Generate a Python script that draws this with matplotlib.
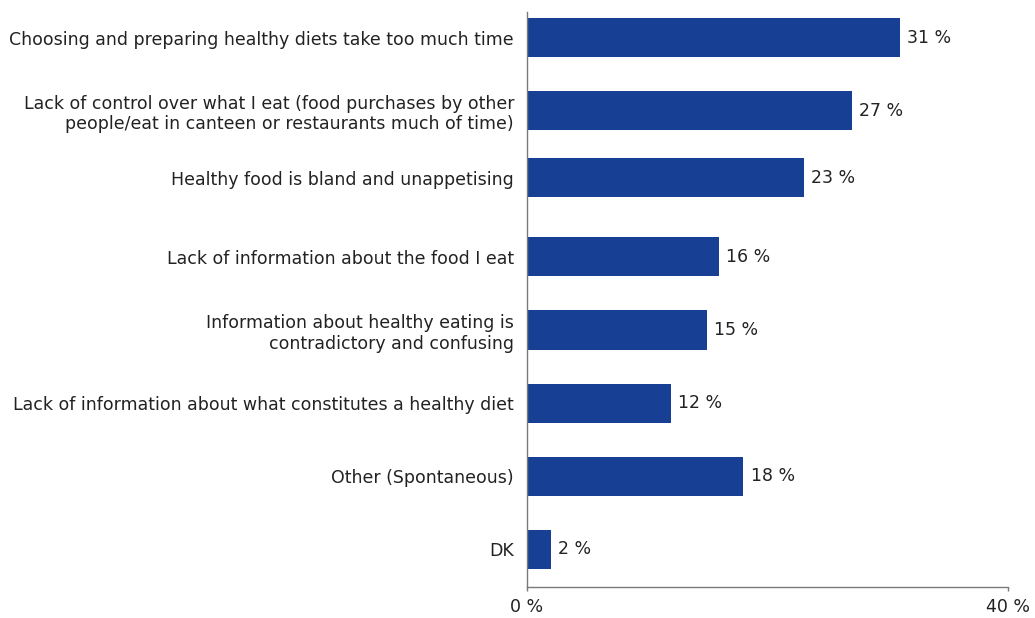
import matplotlib
matplotlib.use("Agg")
import matplotlib.pyplot as plt
import numpy as np

plt.rcParams['font.family'] = ['DejaVu Sans']

categories = [
    "Choosing and preparing healthy diets take too much time",
    "Lack of control over what I eat (food purchases by other\npeople/eat in canteen or restaurants much of time)",
    "Healthy food is bland and unappetising",
    "Lack of information about the food I eat",
    "Information about healthy eating is\ncontradictory and confusing",
    "Lack of information about what constitutes a healthy diet",
    "Other (Spontaneous)",
    "DK",
]
values = [31, 27, 23, 16, 15, 12, 18, 2]
xticks = [0, 40]

bar_color = '#174094'
text_color = '#222222'
axis_color = '#7a7a7a'
fs = 12.5

fig = plt.figure(figsize=(10.35, 6.18), dpi=100)
ax = fig.add_axes([0.5087, 0.0502, 0.4655, 0.9304])

ypos = np.arange(len(values), dtype=float)
ypos[2] -= 0.08

bars = ax.barh(ypos, values, height=0.534, color=bar_color)
for b, v in zip(bars, values):
    ax.text(b.get_width() + 0.6, b.get_y() + b.get_height() / 2, f"{v} %",
            va='center', ha='left', fontsize=fs, color=text_color)

ax.set_xlim(0, 40)
ax.set_ylim(7.514, -0.349)
ax.set_yticks(ypos)
ax.set_yticklabels(categories, fontsize=fs, color=text_color)
ax.set_xticks(xticks)
ax.set_xticklabels([f"{t} %" for t in xticks], fontsize=fs, color=text_color)

ax.tick_params(axis='y', length=0, pad=9)
ax.tick_params(axis='x', length=3, width=1, color=axis_color, pad=5)
for s in ['top', 'right']:
    ax.spines[s].set_visible(False)
for s in ['left', 'bottom']:
    ax.spines[s].set_color(axis_color)
    ax.spines[s].set_linewidth(1)

fig.savefig('out.png', dpi=100)
